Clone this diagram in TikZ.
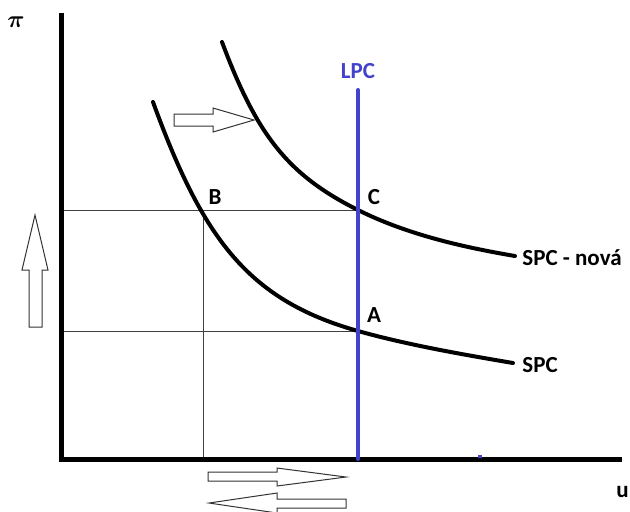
\documentclass[tikz,border=0pt]{standalone}
\usepackage{bm}
\usepackage{fontspec}
\setmainfont{Carlito}
\definecolor{lpcblue}{RGB}{66,66,204}
\begin{document}
\begin{tikzpicture}[x=0.5pt,y=-0.5pt,
  lbl/.style={font=\fontsize{11.5}{13}\selectfont\bfseries,inner sep=0pt},
  axis/.style={line width=2.5pt},
  curve/.style={line width=2pt,line cap=round},
  guide/.style={line width=0.5pt,black!75},
  blockarrow/.style={draw=black!80,line width=0.5pt,fill=white}]
\useasboundingbox (0,0) rectangle (630,511);
\coordinate (O) at (61,459);
\coordinate (ytop) at (61,13);
\coordinate (xend) at (622,459);
\coordinate (B) at (203,210);
\coordinate (C) at (358,210);
\coordinate (A) at (358,331);
\coordinate (lpctop) at (358,90);
\coordinate (lpcbot) at (358,459);
\coordinate (spcstart) at (153,102);
\coordinate (spcend) at (513,363);
\coordinate (novastart) at (222,42);
\coordinate (novaend) at (515,256);
% guide lines
\draw[guide] (B -| O) -- (C);
\draw[guide] (A -| O) -- (A);
\draw[guide] (B) -- (B |- O);
% axes
\draw[axis] (ytop) -- (O) -- (xend);
\fill[lpcblue] (478,455) rectangle (482,458);
% curves
\draw[curve] (spcstart) .. controls (203,239) and (248,300) .. (A)
  .. controls (408,345) and (463,354.5) .. (spcend);
\draw[curve] (novastart) .. controls (257,135.5) and (288,175) .. (C)
  .. controls (408,235) and (465,247.5) .. (novaend);
\draw[line width=2pt,lpcblue,line cap=round] (lpctop) -- (lpcbot);
% block arrows
\draw[blockarrow] (29,327) -- (29,270) -- (22,270) -- (35,215) -- (48,270) -- (42,270) -- (42,327) -- cycle;
\draw[blockarrow] (174,114) -- (213,114) -- (213,108) -- (254,120) -- (213,132) -- (213,126) -- (174,126) -- cycle;
\draw[blockarrow] (208,472) -- (277,472) -- (277,468) -- (346,477) -- (277,486) -- (277,481) -- (208,481) -- cycle;
\draw[blockarrow] (346,499) -- (277,499) -- (277,493) -- (209,503) -- (277,513) -- (277,508) -- (346,508) -- cycle;
% labels
\node[font=\fontsize{12}{14}\selectfont,inner sep=0pt] (pi) at (16,22) {$\bm{\pi}$};
\node[lbl,anchor=west] (u) at (616,492) {u};
\node[lbl,text=lpcblue] (lpc) at (358,71) {LPC};
\node[lbl] (lB) at (215,197) {B};
\node[lbl] (lC) at (374,197) {C};
\node[lbl] (lA) at (374,315) {A};
\node[lbl,anchor=west] (spcnova) at (522,258) {SPC - nová};
\node[lbl,anchor=west] (spc) at (522,365) {SPC};
\end{tikzpicture}
\end{document}
